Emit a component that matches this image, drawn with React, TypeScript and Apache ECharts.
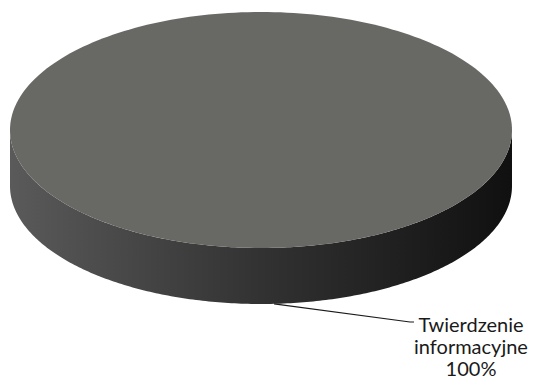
import React, { useEffect, useRef } from "react";
import * as echarts from "echarts";

const categories: string[] = ["Twierdzenie informacyjne"];
const values: number[] = [100];

export default function App() {
  const ref = useRef<HTMLDivElement>(null);
  useEffect(() => {
    if (!ref.current) return;
    const chart = echarts.init(ref.current, undefined, { renderer: "svg" });
    const total = values.reduce((a, b) => a + b, 0);
    const cx = 261, cy = 130, rx = 251, ry = 118, depth = 56;
    const startDeg = 87 - (values[0] / total) * 180;
    const pt = (deg: number, dy = 0) => {
      const a = (deg * Math.PI) / 180;
      return [cx + rx * Math.cos(a), cy + ry * Math.sin(a) + dy];
    };
    const renderItem = (params: any, api: any) => {
      const i = params.dataIndex;
      const v = api.value(0);
      let cum = 0;
      for (let k = 0; k < i; k++) cum += values[k];
      const a0 = startDeg + (cum / total) * 360;
      const a1 = a0 + (v / total) * 360;
      const full = v >= total;
      const top: number[][] = [];
      if (!full) top.push([cx, cy]);
      const n = 240;
      for (let s = 0; s <= n; s++) top.push(pt(a0 + ((a1 - a0) * s) / n));
      const wall: number[][] = [];
      let w0 = 0, w1 = 180;
      if (!full) {
        const norm = (d: number) => ((d % 360) + 360) % 360;
        const b0 = norm(a0);
        const b1 = b0 + (a1 - a0);
        w0 = Math.max(b0, 0);
        w1 = Math.min(b1, 180);
      }
      if (w1 > w0) {
        for (let s = 0; s <= n; s++) wall.push(pt(w0 + ((w1 - w0) * s) / n));
        for (let s = n; s >= 0; s--) wall.push(pt(w0 + ((w1 - w0) * s) / n, depth));
      }
      const mid = (a0 + a1) / 2;
      const anchor = pt(mid, depth);
      const pct = Math.round((v / total) * 100) + "%";
      const label = categories[i].split(" ").join("\n") + "\n" + pct;
      const children: any[] = [];
      if (wall.length) {
        children.push({
          type: "polygon",
          shape: { points: wall },
          style: {
            fill: new echarts.graphic.LinearGradient(0, 0, 1, 0, [
              { offset: 0, color: "#5a5a5a" },
              { offset: 0.5, color: "#323232" },
              { offset: 1, color: "#101010" },
            ]),
          },
        });
      }
      children.push({
        type: "polygon",
        shape: { points: top },
        style: { fill: "#686864" },
      });
      children.push({
        type: "polyline",
        shape: { points: [anchor, [410, 322], [414, 322]] },
        style: { stroke: "#1a1a1a", lineWidth: 1.2, fill: null },
      });
      children.push({
        type: "text",
        x: 471,
        y: 313,
        style: {
          text: label,
          fill: "#1a1a1a",
          font: "20px Lato, sans-serif",
          align: "center",
          verticalAlign: "top",
          lineHeight: 22,
        },
      });
      return { type: "group", children };
    };
    chart.setOption({
      animation: false,
      backgroundColor: "#ffffff",
      series: [
        {
          type: "custom",
          coordinateSystem: "none",
          renderItem,
          data: values.map((v, i) => ({ value: [v], name: categories[i] })),
        },
      ],
    });
    return () => chart.dispose();
  }, []);
  return (
    <div
      ref={ref}
      style={{ position: "fixed", left: 0, top: 0, width: 534, height: 380 }}
    />
  );
}
